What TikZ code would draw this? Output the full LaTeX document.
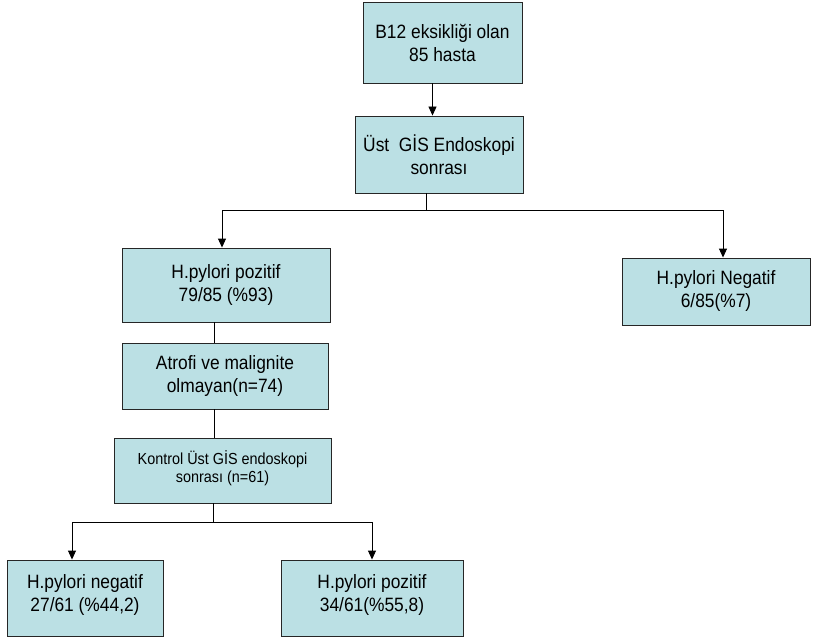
\documentclass[tikz,border=0pt]{standalone}
\usepackage{fontspec}
\setmainfont{Liberation Sans}[FakeStretch=0.9]
\usepackage{tikz}
\usetikzlibrary{arrows.meta,calc}
\definecolor{boxFill}{RGB}{187,224,228}
\tikzset{
  flowBox/.style={
    rectangle,
    draw=black!85,
    fill=boxFill,
    line width=0.9pt,
    inner sep=0pt,
    align=center,
    font=\fontsize{19.3}{23}\selectfont
  },
  smallText/.style={
    font=\fontsize{16}{17.5}\selectfont
  },
  arrowLine/.style={
    -{Triangle[length=9pt,width=8pt]},
    line width=0.9pt
  },
  plainLine/.style={
    line width=0.9pt
  }
}

\begin{document}
\begin{tikzpicture}[x=1pt,y=1pt]
        \useasboundingbox (0,0) rectangle (816,-639);

        \node[flowBox, minimum width=159, minimum height=81] (b12) at (442.5,-42.5) {B12 eksikliği olan\\85 hasta};
        \node[flowBox, minimum width=168, minimum height=77] (ust) at (439,-154.5) {Üst~ GİS Endoskopi\\sonrası};
        \node[flowBox, minimum width=208, minimum height=74] (hpPoz) at (226,-285) {H.pylori pozitif\\79/85 (\%93)};
        \node[flowBox, minimum width=188, minimum height=67] (hpNeg) at (716,-291.5) {H.pylori Negatif\\6/85(\%7)};
        \node[flowBox, minimum width=206, minimum height=66] (atrofi) at (225,-376) {Atrofi ve malignite\\olmayan(n=74)};
        \node[flowBox, smallText, minimum width=217, minimum height=65] (kontrol) at (222.5,-470.5) {Kontrol Üst GİS endoskopi\\sonrası (n=61)\\[-9.5pt]\mbox{}};
        \node[flowBox, minimum width=156, minimum height=76] (kNeg) at (85,-598) {H.pylori negatif\\27/61 (\%44,2)\\[-13pt]\mbox{}};
        \node[flowBox, minimum width=182, minimum height=76] (kPoz) at (372,-598) {H.pylori pozitif\\34/61(\%55,8)\\[-13pt]\mbox{}};

        \coordinate (split1) at ($(ust.south)+(-13,-17)$);
        \coordinate (split2) at ($(kontrol.south)+(-9.5,-19)$);

        \draw[arrowLine] ([xshift=-10]b12.south) -- ([xshift=-10]b12.south |- ust.north);
        \draw[plainLine] (split1 |- ust.south) -- (split1);
        \draw[arrowLine] (split1) -| ([xshift=-4]hpPoz.north);
        \draw[arrowLine] (split1) -| ([xshift=7]hpNeg.north);
        \draw[plainLine] ([xshift=-12]hpPoz.south) -- ([xshift=-12]hpPoz.south |- atrofi.north);
        \draw[plainLine] ([xshift=-11]atrofi.south) -- ([xshift=-11]atrofi.south |- kontrol.north);
        \draw[plainLine] (split2 |- kontrol.south) -- (split2);
        \draw[arrowLine] (split2) -| ([xshift=-13]kNeg.north);
        \draw[arrowLine] (split2) -| (kPoz.north);
    \end{tikzpicture}
\end{document}
